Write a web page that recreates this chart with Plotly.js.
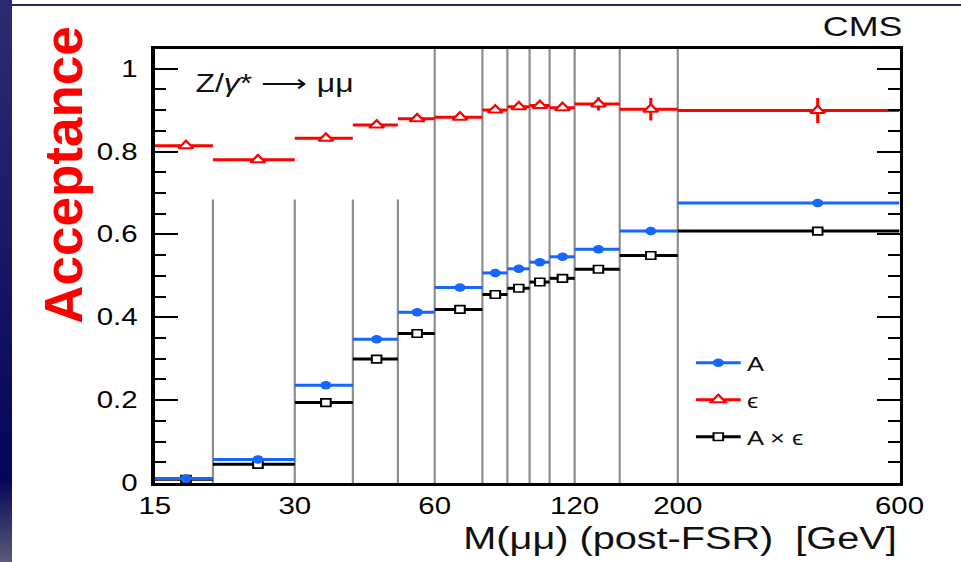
<!DOCTYPE html>
<html>
<head>
<meta charset="utf-8">
<script src="https://cdn.plot.ly/plotly-3.0.1.min.js"></script>
<style>
  html, body { margin:0; padding:0; }
  body { width:961px; height:562px; overflow:hidden; position:relative; background:#ffffff; }
  #stripe { position:absolute; left:0; top:0; width:12px; height:562px;
            background:linear-gradient(to bottom,#2c2b72 0%,#1b1a66 40%,#04045a 85%,#5a5a7a 100%); }
  #topline { position:absolute; left:12px; top:4px; width:949px; height:2px; background:#2b2a5e; }
  #plot { position:absolute; left:0; top:0; width:751px; height:562px;
          transform-origin:0 0; transform:scaleX(1.2796); }
  #ytitle { position:absolute; left:63px; top:175px; transform:translate(-50%,-50%) rotate(-90deg);
            font-family:"Liberation Sans", Arial, sans-serif; font-weight:bold; font-size:53px;
            line-height:1; color:#ff0000; white-space:nowrap; }
</style>
</head>
<body>
<div id="stripe"></div>
<div id="topline"></div>
<div id="plot"></div>
<div id="ytitle">Acceptance</div>
<script>
// ---- data ----
const binEdges   = [15, 20, 30, 40, 50, 60, 76, 86, 96, 106, 120, 150, 200, 600];
const xTickVals  = [15, 30, 60, 120, 200, 600];
const xTickText  = ['15', '30', '60', '120', '200', '600'];
const acceptance = [0.011, 0.057, 0.236, 0.347, 0.412, 0.472, 0.507, 0.517, 0.533, 0.546, 0.564, 0.608, 0.676];
const accErr     = [0.002, 0.003, 0.003, 0.003, 0.003, 0.003, 0.003, 0.003, 0.003, 0.003, 0.004, 0.005, 0.009];
const efficiency = [0.814, 0.780, 0.832, 0.864, 0.879, 0.883, 0.900, 0.908, 0.911, 0.906, 0.915, 0.902, 0.899];
const effErr     = [0.004, 0.004, 0.004, 0.004, 0.005, 0.006, 0.005, 0.006, 0.006, 0.006, 0.016, 0.027, 0.030];
const accTimesEff= [0.009, 0.045, 0.194, 0.299, 0.361, 0.419, 0.455, 0.470, 0.485, 0.494, 0.516, 0.549, 0.608];
const accEffErr  = [0.002, 0.003, 0.003, 0.003, 0.003, 0.003, 0.003, 0.003, 0.003, 0.003, 0.004, 0.005, 0.009];
const seriesNames = ['A', 'ϵ', 'A × ϵ'];

// ---- derived bin geometry ----
const centers = [], halfW = [];
for (let i = 0; i < binEdges.length - 1; i++) {
  centers.push((binEdges[i] + binEdges[i+1]) / 2);
  halfW.push((binEdges[i+1] - binEdges[i]) / 2);
}

const BLUE = '#1466ff', RED = '#ff0000', BLACK = '#000000';

function histTrace(vals, errs, color, marker) {
  return {
    type: 'scatter', mode: 'markers', x: centers, y: vals, showlegend: false,
    error_x: {type: 'data', array: halfW, symmetric: true, thickness: 3, width: 0, color: color},
    error_y: {type: 'data', array: errs, symmetric: true, thickness: 2.4, width: 0, color: color},
    marker: marker, hoverinfo: 'x+y'
  };
}
function legendTrace(name, color, marker, group) {
  return {type: 'scatter', mode: 'lines+markers', x: [null], y: [null], name: name,
          legendgroup: group, line: {color: color, width: 3}, marker: marker};
}

const mA  = {symbol: 'circle', size: 8.5, color: BLUE, line: {width: 0}};
const mE  = {symbol: 'triangle-up', size: 10, color: '#ffffff', line: {color: RED, width: 2}};
const mAE = {symbol: 'square', size: 7.5, color: '#ffffff', line: {color: BLACK, width: 1.6}};

const traces = [
  histTrace(efficiency, effErr, RED, mE),
  histTrace(accTimesEff, accEffErr, BLACK, mAE),
  histTrace(acceptance, accErr, BLUE, mA),
  legendTrace(seriesNames[0], BLUE, mA, 'g1'),
  legendTrace(seriesNames[1], RED, mE, 'g2'),
  legendTrace(seriesNames[2], BLACK, mAE, 'g3')
];

// vertical bin-boundary lines
const shapes = [];
for (let i = 1; i < binEdges.length - 1; i++) {
  const e = binEdges[i];
  shapes.push({type: 'line', xref: 'x', yref: (e < 60 ? 'y' : 'paper'),
               x0: e, x1: e, y0: 0, y1: (e < 60 ? 0.684 : 1),
               line: {color: '#8c8c8c', width: 1.7}, layer: 'below'});
}

const FONT = '"Liberation Sans", Arial, Helvetica, sans-serif';

const layout = {
  width: 751, height: 562,
  margin: {l: 121.1, r: 47.7, t: 49, b: 79},
  paper_bgcolor: 'rgba(0,0,0,0)', plot_bgcolor: '#ffffff',
  font: {family: FONT, color: '#000000'},
  showlegend: true,
  legend: {x: 0.718, y: 0.322, xanchor: 'left', yanchor: 'top', bgcolor: 'rgba(0,0,0,0)',
           font: {family: FONT, size: 20, color: '#111'}, itemwidth: 35, tracegroupgap: 8,
           traceorder: 'grouped'},
  xaxis: {type: 'log', range: [Math.log10(15), Math.log10(600)],
          tickvals: xTickVals, ticktext: xTickText, ticks: '',
          showgrid: false, zeroline: false, showline: true, linecolor: '#000', linewidth: 3, mirror: true,
          tickfont: {family: FONT, size: 23, color: '#000'}},
  yaxis: {range: [0, 1.0475], tickvals: [0, 0.2, 0.4, 0.6, 0.8, 1], ticktext: ['0', '0.2', '0.4', '0.6', '0.8', '1'],
          ticks: 'inside', ticklen: 18, tickwidth: 2, tickcolor: '#000',
          minor: {dtick: 0.05, ticks: 'inside', ticklen: 9, tickwidth: 2, tickcolor: '#000', showgrid: false},
          showgrid: false, zeroline: false, showline: true, linecolor: '#000', linewidth: 2.8, mirror: 'allticks',
          ticklabelstandoff: 6,
          tickfont: {family: FONT, size: 23, color: '#000'}},
  shapes: shapes,
  annotations: [
    {text: 'CMS', xref: 'paper', yref: 'paper', x: 1.0067, y: 1.052, xanchor: 'right', yanchor: 'middle',
     showarrow: false, font: {family: FONT, size: 28, color: '#111'}},
    {text: 'Z/<i>γ</i>* ⟶ μμ', xref: 'paper', yref: 'paper', x: 0.052, y: 0.922, xanchor: 'left', yanchor: 'middle',
     showarrow: false, font: {family: FONT, size: 25, color: '#111'}},
    {text: 'M(μμ) (post-FSR)\u00a0\u00a0[GeV]', xref: 'paper', yref: 'paper', x: 1.0, y: -0.127,
     xanchor: 'right', yanchor: 'middle', showarrow: false, font: {family: FONT, size: 31, color: '#111'}}
  ]
};

Plotly.newPlot('plot', traces, layout, {displayModeBar: false, staticPlot: true});
</script>
</body>
</html>
